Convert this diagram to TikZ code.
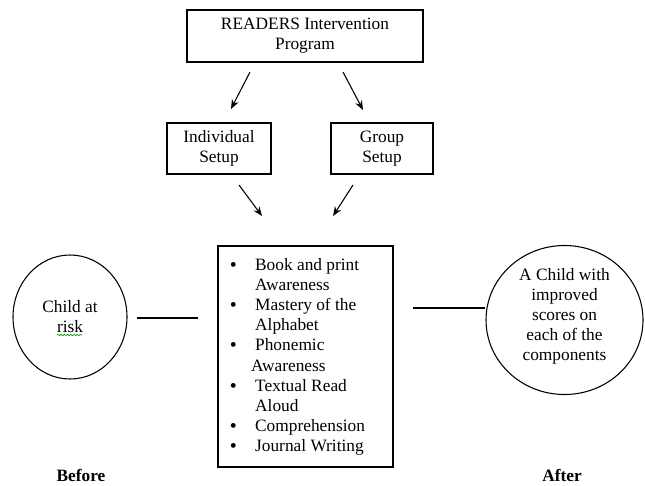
\documentclass[tikz,border=0pt]{standalone}
\usepackage{fontspec}
\setmainfont{Liberation Serif}
\usetikzlibrary{arrows.meta,decorations.pathmorphing,shapes.geometric}
\newcommand{\bigbul}{\raisebox{-0.7pt}{\fontsize{15}{12}\selectfont\textbullet}}
\begin{document}
\begin{tikzpicture}[x=0.75pt,y=-0.75pt,
  every node/.style={font=\fontsize{13}{15}\selectfont},
  box/.style={draw,line width=0.8pt,inner sep=0pt,align=center},
  oval/.style={draw,ellipse,line width=0.8pt,inner sep=0pt,align=center},
  arr/.style={-{Stealth[length=7pt,width=5.5pt]},line width=0.8pt},
  link/.style={line width=0.8pt}]
\useasboundingbox (0,0) rectangle (645,485);

% boxes
\node[box,minimum width=177pt,minimum height=39pt] (prog) at (305,36) {READERS Intervention\\Program};
\node[box,minimum width=78pt,minimum height=38.25pt] (indiv) at (219,148.5) {Individual\\Setup};
\node[box,minimum width=76.5pt,minimum height=38.25pt] (group) at (382,148.5) {Group\\Setup};
\node[box,minimum width=131.25pt,minimum height=165.75pt] (comp) at (305.5,356.5) {};
\node[anchor=north west,inner sep=0pt,align=left,font=\fontsize{13}{15.1}\selectfont] (list) at (229.5,256) {%
\begin{tabular}{@{}l@{\hspace{13.8pt}}l@{}}
\bigbul & Book and print\\
 & Awareness\\
\bigbul & Mastery of the\\
 & Alphabet\\
\bigbul & Phonemic\\
 & \hspace*{-3pt}Awareness\\
\bigbul & Textual Read\\
 & Aloud\\
\bigbul & Comprehension\\
\bigbul & Journal Writing
\end{tabular}};

% circles
\node[oval,minimum width=85.5pt,minimum height=93pt] (before) at (70,317) {Child at\\risk};
\node[oval,minimum width=117.75pt,minimum height=111.75pt,text depth=9pt] (after) at (564.5,320) {A Child with\\improved\\scores on\\each of the\\components};

% spell-check squiggle under "risk"
\draw[green!55!black,line width=0.5pt,decorate,decoration={snake,amplitude=0.5pt,segment length=2.4pt}] (57,335) -- (82,335);

% arrows
\coordinate (a1s) at (250,72);  \coordinate (a1e) at (231,109);
\coordinate (a2s) at (343,72);  \coordinate (a2e) at (363,110);
\coordinate (a3s) at (239,185); \coordinate (a3e) at (262,216);
\coordinate (a4s) at (353,185); \coordinate (a4e) at (333,216);
\draw[arr] (a1s) -- (a1e);
\draw[arr] (a2s) -- (a2e);
\draw[arr] (a3s) -- (a3e);
\draw[arr] (a4s) -- (a4e);

% lines
\coordinate (l1s) at (137,318); \coordinate (l1e) at (198,318);
\coordinate (l2s) at (413,308);
\draw[link] (l1s) -- (l1e);
\draw[link] (l2s) -- (l2s -| after.west);

% labels
\node[anchor=base,font=\fontsize{13}{15}\selectfont\bfseries] (lbefore) at (81,481) {Before};
\node[anchor=base,font=\fontsize{13}{15}\selectfont\bfseries] (lafter) at (562,481) {After};
\end{tikzpicture}
\end{document}
